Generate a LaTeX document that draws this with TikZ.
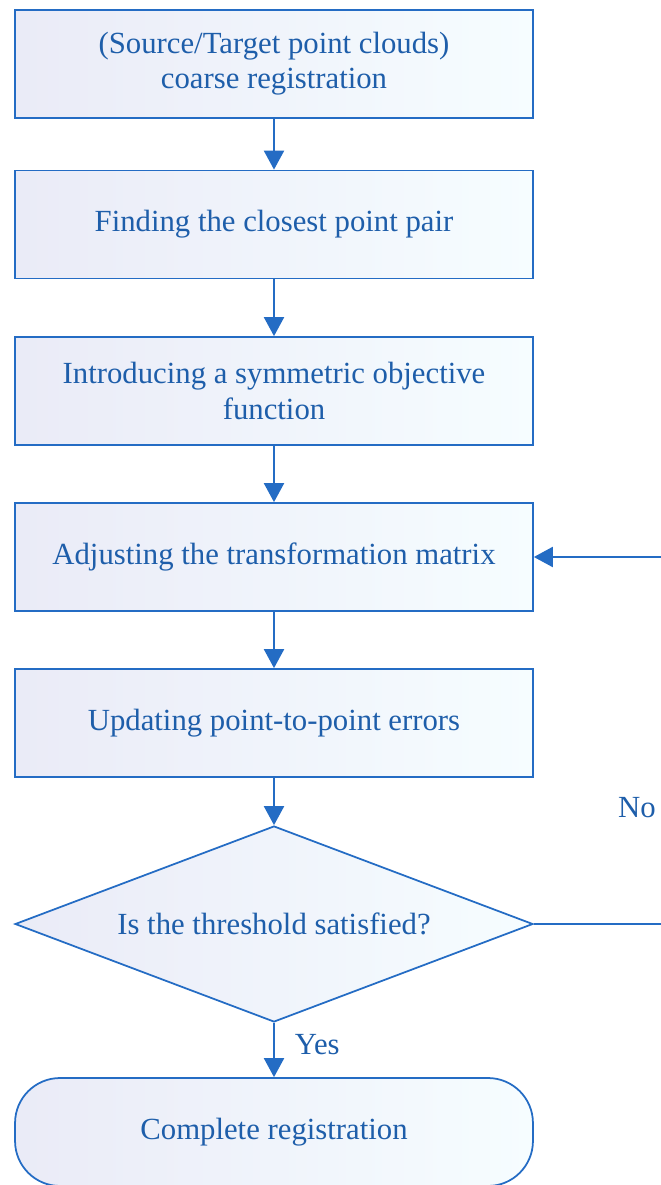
\documentclass[tikz,border=0pt]{standalone}
\usepackage{fontspec}
\setmainfont{Liberation Serif}
\usetikzlibrary{arrows.meta,positioning,shapes.geometric}
\definecolor{flowline}{RGB}{36,108,196}
\definecolor{flowtext}{RGB}{30,94,170}
\definecolor{boxL}{RGB}{234,235,247}
\definecolor{boxR}{RGB}{246,253,255}
\begin{document}
\begin{tikzpicture}[x=0.02cm,y=-0.02cm,every node/.style={font=\fontsize{17.5}{20}\selectfont,text=flowtext},
 stepbox/.style={rectangle,draw=flowline,line width=1pt,left color=boxL,right color=boxR,minimum width=10.36cm,minimum height=2.16cm,align=center,inner sep=0pt},
 testbox/.style={diamond,draw=flowline,line width=1pt,left color=boxL,right color=boxR,aspect=2.64,minimum width=10.36cm,minimum height=3.92cm,inner sep=0pt},
 endbox/.style={stepbox,rounded corners=0.9cm},
 flow/.style={draw=flowline,line width=1.2pt,-{Triangle[width=0.4cm,length=0.38cm]}}]
\useasboundingbox (0,0) rectangle (660,1185);
\node[stepbox](coarse) at (274,64){(Source/Target point clouds)\\coarse registration};
\node[stepbox](pair) at (274,224.5){Finding the closest point pair};
\node[stepbox](objective) at (274,391){Introducing a symmetric objective\\function};
\node[stepbox](adjust) at (274,557){Adjusting the transformation matrix};
\node[stepbox](update) at (274,723){Updating point-to-point errors};
\node[testbox](test) at (274,924){Is the threshold satisfied?};
\node[endbox](done) at (274,1132){Complete registration};
\draw[flow](coarse)--(pair);\draw[flow](pair)--(objective);\draw[flow](objective)--(adjust);\draw[flow](adjust)--(update);\draw[flow](update)--(test);
\draw[flow](test)--node[right=8pt,pos=0.4]{Yes}(done);
% loop back when the threshold is not met
\coordinate (back) at (666,924);
\draw[flow](test.east)--(back)|-(adjust.east);
\node[anchor=east,inner sep=0pt](no) at (656,808){No};
\end{tikzpicture}
\end{document}
